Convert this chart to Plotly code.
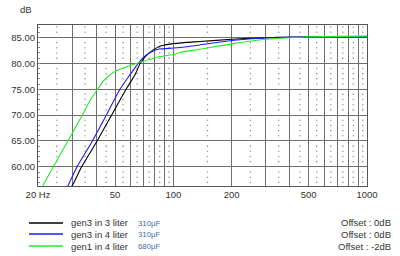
import numpy as np
import plotly.graph_objects as go

# ---- data ----
black_f = [29.5, 30.2, 33.6, 40.4, 48.0, 57.0, 63.4, 67.5, 72.9, 78.8, 85.3, 96.1, 117, 137, 200, 300, 400, 500, 700, 1000]
black_db = [56.0, 56.5, 60.0, 65.0, 70.0, 75.0, 77.8, 80.0, 81.6, 82.6, 83.3, 83.7, 84.05, 84.2, 84.65, 84.95, 85.05, 85.1, 85.15, 85.15]

blue_f = [28.2, 28.7, 31.8, 38.2, 45.1, 53.0, 60.0, 66.5, 72.5, 78.5, 85.0, 100, 117, 137, 200, 300, 400, 500, 700, 1000]
blue_db = [56.0, 56.5, 60.0, 65.0, 70.0, 75.0, 77.9, 80.2, 81.6, 82.4, 82.75, 82.95, 83.2, 83.55, 84.4, 84.9, 85.0, 85.1, 85.15, 85.15]

green_f = [21.0, 21.3, 24.0, 28.5, 33.9, 37.4, 40.6, 43.6, 46.8, 51.0, 57.0, 65.0, 85.3, 100, 108, 137, 200, 300, 400, 500, 700, 1000]
green_db = [56.0, 56.5, 60.0, 65.0, 70.0, 73.0, 75.0, 76.6, 77.7, 78.6, 79.3, 80.0, 81.3, 81.7, 82.1, 82.7, 83.75, 84.65, 84.95, 85.1, 85.2, 85.25]

series_names = ["gen3 in 3 liter", "gen3 in 4 liter", "gen1 in 4 liter"]
series_caps = ["310µF", "310µF", "680µF"]
series_offsets = ["Offset : 0dB", "Offset : 0dB", "Offset : -2dB"]
series_colors = ["#000000", "#1a1aff", "#22ee22"]

x_grid = [20, 30, 40, 50, 60, 70, 80, 90, 100, 200, 300, 400, 500, 600, 700, 800, 900, 1000]
x_labels = {20: "20 Hz", 50: "50", 100: "100", 200: "200", 500: "500", 1000: "1000"}
y_ticks = [60, 65, 70, 75, 80, 85]
x_minor = [25, 35, 45, 55, 65, 75, 85, 95, 150, 250, 350, 450, 550, 650, 750, 850, 950]
y_minor = [v for v in range(57, 88) if v % 5 != 0]

# ---- layout geometry (pixels) ----
W, H = 400, 256
L, R, T, B = 38, 367, 25, 186
FONT = "Liberation Sans, Arial, sans-serif"

def px(x):
    return (x - L) / (R - L)

def py(y):
    return (B - y) / (B - T)

fig = go.Figure()

# minor grid dots
mx, my = np.meshgrid(x_minor, y_minor)
fig.add_trace(go.Scatter(x=mx.ravel(), y=my.ravel(), mode="markers",
                         marker=dict(size=1.6, color="#9a9a9a"),
                         hoverinfo="skip", showlegend=False))

for f, db, c, n in zip([black_f, blue_f, green_f], [black_db, blue_db, green_db],
                       series_colors, series_names):
    fig.add_trace(go.Scatter(x=f, y=db, mode="lines", name=n,
                             line=dict(color=c, width=1.1, shape="spline", smoothing=0.6),
                             showlegend=False))

shapes = []
annotations = []
legend_y = [223, 234, 246]
for i in range(3):
    shapes.append(dict(type="line", xref="paper", yref="paper",
                       x0=px(29), x1=px(63), y0=py(legend_y[i]), y1=py(legend_y[i]),
                       line=dict(color=series_colors[i], width=1.3)))
    annotations.append(dict(xref="paper", yref="paper", x=px(69), y=py(legend_y[i]),
                            text=series_names[i], showarrow=False, xanchor="left", yanchor="middle",
                            font=dict(family=FONT, size=9.5, color="#333333")))
    annotations.append(dict(xref="paper", yref="paper", x=px(135.5), y=py(legend_y[i] + 0.5),
                            text=series_caps[i], showarrow=False, xanchor="left", yanchor="middle",
                            font=dict(family=FONT, size=7.8, color="#3a6ea8")))
    annotations.append(dict(xref="paper", yref="paper", x=px(393), y=py(legend_y[i]),
                            text=series_offsets[i], showarrow=False, xanchor="right", yanchor="middle",
                            font=dict(family=FONT, size=9.5, color="#333333")))

annotations.append(dict(xref="paper", yref="paper", x=px(26), y=py(9),
                        text="dB", showarrow=False, xanchor="center", yanchor="middle",
                        font=dict(family=FONT, size=9.5, color="#333333")))

fig.update_layout(
    width=W, height=H,
    margin=dict(l=L, r=W - R, t=T, b=H - B, pad=0),
    paper_bgcolor="white", plot_bgcolor="white",
    showlegend=False,
    shapes=shapes, annotations=annotations,
    font=dict(family=FONT, size=9.5, color="#333333"),
)

fig.update_xaxes(type="log", range=[np.log10(20), np.log10(1000)],
                 tickmode="array", tickvals=x_grid,
                 ticktext=[x_labels.get(v, "") for v in x_grid],
                 showgrid=True, gridcolor="#6e6e6e", gridwidth=1,
                 showline=True, linecolor="#555555", linewidth=1, mirror=True,
                 ticks="", tickfont=dict(family=FONT, size=9.5, color="#333333"),
                 zeroline=False)

fig.update_yaxes(range=[56.3, 87.4], tickmode="array", tickvals=y_ticks,
                 tickformat=".2f",
                 showgrid=True, gridcolor="#6e6e6e", gridwidth=1,
                 showline=True, linecolor="#555555", linewidth=1, mirror=True,
                 ticks="", tickfont=dict(family=FONT, size=9.5, color="#333333"),
                 minor=dict(tickmode="linear", tick0=0, dtick=1, ticks="inside",
                            ticklen=2, tickcolor="#888888", showgrid=False),
                 zeroline=False)

fig.write_html("out.html")
